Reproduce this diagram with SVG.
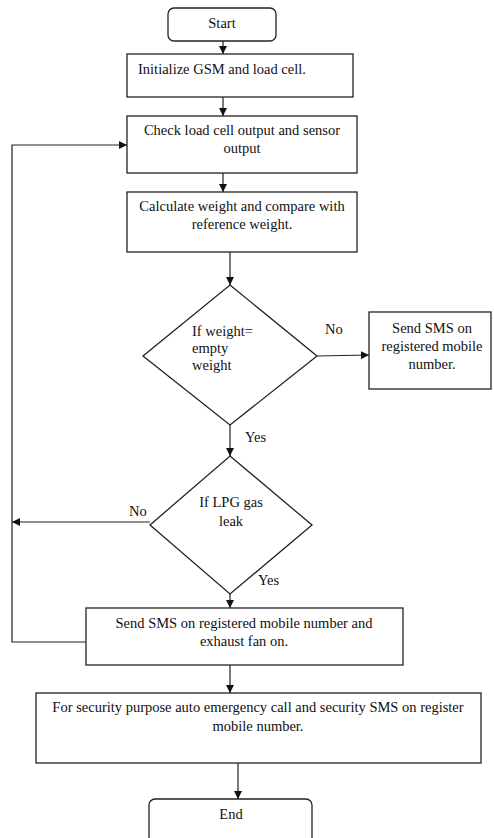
<svg xmlns="http://www.w3.org/2000/svg" width="494" height="838" viewBox="0 0 494 838">
<style>
.box{fill:#fff;stroke:#222;stroke-width:1.3}
.t{font-family:"Liberation Serif","Times New Roman",serif;font-size:14.5px;fill:#111}
.m{text-anchor:middle}
.c{fill:none;stroke:#222;stroke-width:1.2}
</style>
<defs>
<marker id="ah" viewBox="0 0 10 10" refX="10" refY="5" markerWidth="8" markerHeight="8" markerUnits="userSpaceOnUse" orient="auto">
<path d="M0,0 L10,5 L0,10 z" fill="#111"/>
</marker>
</defs>
<rect width="494" height="838" fill="#fff"/>
<g id="connectors">
<line class="c" x1="223" y1="41" x2="223" y2="54" marker-end="url(#ah)"/>
<line class="c" x1="223" y1="97" x2="223" y2="116" marker-end="url(#ah)"/>
<line class="c" x1="223" y1="173" x2="223" y2="192" marker-end="url(#ah)"/>
<line class="c" x1="230" y1="252" x2="230" y2="285" marker-end="url(#ah)"/>
<line class="c" x1="317" y1="356" x2="369" y2="355" marker-end="url(#ah)"/>
<line class="c" x1="230" y1="425" x2="230" y2="456" marker-end="url(#ah)"/>
<line class="c" x1="150" y1="522" x2="12" y2="522" marker-end="url(#ah)"/>
<line class="c" x1="230" y1="594" x2="230" y2="608" marker-end="url(#ah)"/>
<polyline class="c" points="86,642 12,642 12,145 127,145" marker-end="url(#ah)"/>
<line class="c" x1="230" y1="665" x2="230" y2="693" marker-end="url(#ah)"/>
<line class="c" x1="238" y1="763" x2="238" y2="799" marker-end="url(#ah)"/>
<text class="t" x="325" y="334">No</text>
<text class="t" x="245" y="442">Yes</text>
<text class="t" x="129" y="516">No</text>
<text class="t" x="258" y="585">Yes</text>
</g>
<g id="start">
<rect class="box" x="168" y="8" width="108" height="33" rx="6"/>
<text class="t m" x="222" y="28">Start</text>
</g>
<g id="init">
<rect class="box" x="127" y="54" width="226" height="43"/>
<text class="t" x="138" y="74">Initialize GSM and load cell.</text>
</g>
<g id="check">
<rect class="box" x="127" y="116" width="230" height="57"/>
<text class="t m" x="242" y="135">Check load cell output and sensor</text>
<text class="t m" x="242" y="153">output</text>
</g>
<g id="calc">
<rect class="box" x="127" y="192" width="230" height="60"/>
<text class="t m" x="242" y="211">Calculate weight and compare with</text>
<text class="t m" x="242" y="229">reference weight.</text>
</g>
<g id="dec1">
<polygon class="box" points="230,285 317,356 230,425 143,356"/>
<text class="t" x="192" y="336">If weight=</text>
<text class="t" x="192" y="353">empty</text>
<text class="t" x="192" y="370">weight</text>
</g>
<g id="smsEmpty">
<rect class="box" x="369" y="312" width="122" height="77"/>
<text class="t m" x="432" y="333">Send SMS  on</text>
<text class="t m" x="432" y="351">registered mobile</text>
<text class="t m" x="432" y="369">number.</text>
</g>
<g id="dec2">
<polygon class="box" points="230,456 312,525 230,594 150,525"/>
<text class="t m" x="231" y="507">If LPG gas</text>
<text class="t m" x="231" y="526">leak</text>
</g>
<g id="smsFan">
<rect class="box" x="86" y="608" width="317" height="57"/>
<text class="t m" x="244" y="628">Send SMS  on registered mobile number and</text>
<text class="t m" x="244" y="646">exhaust fan on.</text>
</g>
<g id="security">
<rect class="box" x="36" y="693" width="445" height="70"/>
<text class="t m" x="258" y="712">For security purpose auto emergency call and security SMS on register</text>
<text class="t m" x="258" y="731">mobile number.</text>
</g>
<g id="end">
<rect class="box" x="149" y="799" width="163" height="50" rx="6"/>
<text class="t m" x="231" y="819">End</text>
</g>
</svg>
